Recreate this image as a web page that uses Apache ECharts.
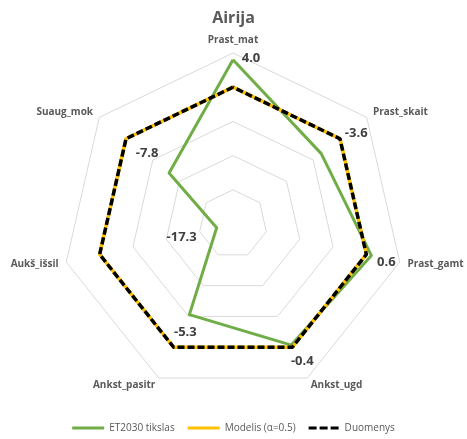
<!DOCTYPE html>
<html>
<head>
<meta charset="utf-8">
<title>Airija</title>
<script src="https://cdn.jsdelivr.net/npm/echarts@6/dist/echarts.min.js"></script>
<style>
  html, body { margin: 0; padding: 0; background: #fff; }
  #chart { width: 467px; height: 439px; }
</style>
</head>
<body>
<div id="chart"></div>
<script>
// axes, clockwise from the top
var categories = ['Prast_mat', 'Prast_skait', 'Prast_gamt', 'Ankst_ugd', 'Ankst_pasitr', 'Aukš_išsil', 'Suaug_mok'];
var et2030 = [4.8, 3.3, 4.15, 3.93, 2.94, 0.49, 2.39];
var modelis = [4, 4, 4, 4, 4, 4, 4];
var duomenys = [4, 4, 4, 4, 4, 4, 4];
var gapLabels = ['4.0', '-3.6', '0.6', '-0.4', '-5.3', '-17.3', '-7.8'];

// label offsets from the ET2030 vertex
var labelOffsets = [[18, -2], [35, -20], [15, 7], [11, 16], [-4, 18], [-35, 10], [-22, -20]];

// echarts radar runs counterclockwise, so reorder
var order = [0, 6, 5, 4, 3, 2, 1];
function reorder (arr) {
  return order.map(function (i) { return arr[i]; });
}

var font = 'Open Sans';
var chart = echarts.init(document.getElementById('chart'));

var labelData = categories.map(function (c, k) {
  return {
    name: c,
    value: order.map(function (i) { return i === k ? et2030[i] : '-'; }),
    label: {
      show: true,
      position: 'inside',
      offset: labelOffsets[k],
      formatter: function (p) {
        return isNaN(p.value) ? '' : gapLabels[p.dataIndex];
      }
    }
  };
});

chart.setOption({
  animation: false,
  title: {
    text: 'Airija',
    left: 'center',
    top: 5,
    textStyle: { color: '#595959', fontSize: 16, fontWeight: 'bold', fontFamily: font }
  },
  legend: {
    bottom: 1,
    left: 'center',
    itemGap: 13,
    itemWidth: 32,
    itemHeight: 3,
    textStyle: { color: '#595959', fontSize: 10, fontFamily: font },
    data: [
      { name: 'ET2030 tikslas', icon: 'rect' },
      { name: 'Modelis (α=0.5)', icon: 'rect' },
      { name: 'Duomenys', icon: 'path://M0,0H8V3H0Z M11,0H19V3H11Z M22,0H30V3H22Z' }
    ]
  },
  radar: {
    center: [233, 224],
    radius: 171,
    startAngle: 90,
    splitNumber: 5,
    shape: 'polygon',
    nameGap: 8,
    axisName: { color: '#595959', fontSize: 10, fontWeight: 'bold', fontFamily: font },
    axisLine: { show: false },
    splitArea: { show: false },
    splitLine: { lineStyle: { color: '#d9d9d9', width: 1 } },
    indicator: reorder(categories).map(function (c) {
      return { name: c, min: 0, max: 5 };
    })
  },
  series: [
    {
      type: 'radar',
      name: 'ET2030 tikslas',
      symbol: 'none',
      itemStyle: { color: '#70ad47' },
      lineStyle: { color: '#70ad47', width: 3 },
      data: [{ name: 'ET2030 tikslas', value: reorder(et2030) }]
    },
    {
      type: 'radar',
      name: 'Modelis (α=0.5)',
      symbol: 'none',
      itemStyle: { color: '#ffc000' },
      lineStyle: { color: '#ffc000', width: 3.5 },
      data: [{ name: 'Modelis (α=0.5)', value: reorder(modelis) }]
    },
    {
      type: 'radar',
      name: 'Duomenys',
      symbol: 'none',
      itemStyle: { color: '#000' },
      lineStyle: { color: '#000', width: 3.5, type: [7, 3] },
      data: [{ name: 'Duomenys', value: reorder(duomenys) }]
    },
    {
      type: 'radar',
      name: 'labels',
      symbol: 'circle',
      symbolSize: 1,
      silent: true,
      itemStyle: { color: 'rgba(0,0,0,0)' },
      lineStyle: { opacity: 0 },
      label: { color: '#404040', fontSize: 13, fontWeight: 'bold', fontFamily: font },
      data: labelData
    }
  ]
});
</script>
</body>
</html>
